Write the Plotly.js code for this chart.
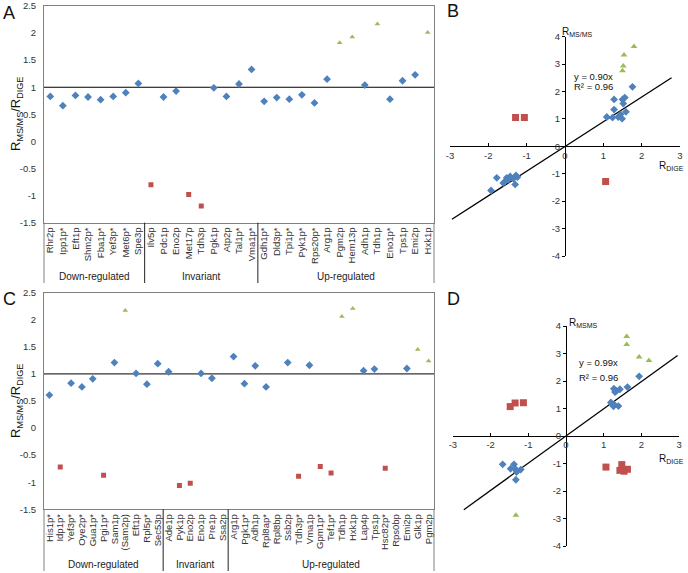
<!DOCTYPE html>
<html><head><meta charset="utf-8">
<script src="https://cdn.plot.ly/plotly-3.0.1.min.js"></script>
<style>html,body{margin:0;padding:0;background:#fff}#chart{width:688px;height:573px}</style>
</head><body><div id="chart"></div>
<script>
// ---------- Panel A data ----------
const catA = ['Rhr2p','Ipp1p*','Eft1p','Shm2p*','Fba1p*','Yef3p*','Met6p*','Spe3p',
  'Ilv5p','Pdc1p','Eno2p','Met17p','Tdh3p','Pgk1p','Atp2p','Tal1p*','Vma1p*',
  'Gdh1p*','Dld3p*','Tpi1p*','Pyk1p*','Rps20p*','Arg1p','Pgm2p','Hem13p','Adh1p','Tdh1p','Eno1p*','Tps1p','Emi2p','Hxk1p'];
const valA = [0.83,0.66,0.85,0.82,0.77,0.83,0.90,1.07,
  -0.80,0.82,0.93,-0.98,-1.19,0.99,0.83,1.06,1.33,
  0.74,0.81,0.78,0.86,0.71,1.15,1.82,1.93,1.04,2.17,0.78,1.12,1.23,2.01];
const typeA = ['b','b','b','b','b','b','b','b',
  'r','b','b','r','r','b','b','b','b',
  'b','b','b','b','b','b','g','g','b','g','b','b','b','g'];
const groupsA = ['Down-regulated','Invariant','Up-regulated'];
const groupSizeA = [8,9,14];

// ---------- Panel C data ----------
const catC = ['His1p*','Idp1p*','Yef3p*','Oye2p*','Gua1p*','Pgi1p*','Sam1p','(Sam2p)','Eft1p','Rpl5p*','Sec53p',
  'Ade1p','Pyk1p','Eno2p','Eno1p','Pre1p','Ssa2p',
  'Arg1p','Pgk1p*','Adh1p','Rpl8ap*','Rpl8bp','Ssb2p','Tdh3p*','Vma1p','Gpm1p*','Tef1p*','Tdh1p','Hxk1p','Lap4p','Tps1p','Hsc82p*','Rps0bp','Emi2p','Glk1p','Pgm2p'];
const valC = [0.61,-0.72,0.83,0.76,0.91,-0.87,1.21,2.17,1.01,0.81,1.19,
  1.04,-1.06,-1.02,1.01,0.92,null,
  1.32,0.82,1.15,0.76,null,1.21,-0.89,1.16,-0.71,-0.83,2.06,2.21,1.06,1.09,-0.74,null,1.10,1.45,1.24];
const typeC = ['b','r','b','b','b','r','b','g','b','b','b',
  'b','r','r','b','b','',
  'b','b','b','b','','b','r','b','r','r','g','g','b','b','r','','b','g','g'];
const groupsC = ['Down-regulated','Invariant','Up-regulated'];
const groupSizeC = [11,6,19];

const ratioTicks = [-1.5,-1,-0.5,0,0.5,1,1.5,2,2.5];
const ratioTickText = ['-1.5','-1','-0.5','0','0.5','1','1.5','2','2.5'];

// ---------- Panel B data ----------
const bBlueX = [-1.93,-1.78,-1.61,-1.56,-1.52,-1.48,-1.43,-1.35,-1.28,-1.30,-1.24,1.09,1.24,1.28,1.28,1.39,1.45,1.49,1.50,1.52,1.56,1.59,1.76];
const bBlueY = [-1.61,-1.15,-1.34,-1.27,-1.15,-1.22,-1.10,-1.18,-1.06,-1.39,-1.12,1.07,1.05,1.71,1.34,1.07,1.17,1.01,1.71,1.56,1.78,1.26,2.17];
const bGreenX = [1.54,1.50,1.52,1.80];
const bGreenY = [3.33,2.76,2.93,3.64];
const bRedX = [-1.29,-1.06,1.06];
const bRedY = [1.05,1.05,-1.28];
const fitBX = [-2.95,2.78];
const fitBY = [-2.66,2.50];

// ---------- Panel D data ----------
const dBlueX = [-1.68,-1.47,-1.38,-1.35,-1.31,-1.33,-1.20,1.19,1.26,1.28,1.39,1.27,1.30,1.34,1.43,1.63,1.94];
const dBlueY = [-1.03,-1.19,-1.03,-1.19,-1.31,-1.59,-1.22,1.22,1.08,1.14,1.09,1.72,1.60,1.64,1.70,1.78,2.17];
const dGreenX = [1.61,1.61,1.94,2.20,-1.33];
const dGreenY = [3.62,3.33,2.87,2.75,-2.88];
const dRedX = [-1.48,-1.35,-1.13,1.06,1.48,1.43,1.54,1.63];
const dRedY = [1.07,1.20,1.21,-1.13,-1.04,-1.25,-1.28,-1.21];
const fitDX = [-2.71,2.96];
const fitDY = [-2.68,2.93];

const scatXTicks = [-3,-2,-1,0,1,2,3];
const scatXText = ['-3','-2','-1','0','1','2','3'];
const scatYTicks = [-4,-3,-2,-1,0,1,2,3,4];
const scatYText = ['-4','-3','-2','-1','0','1','2','3','4'];

// ---------- styles ----------
const FONT = 'Liberation Sans, Arial, sans-serif';
const COL = {b:'#4F81BD', r:'#C0504D', g:'#9BBB59'};
const SYM = {b:'diamond', r:'square', g:'triangle-up'};
const SIZE_CAT = {b:6, r:5, g:5};
const SIZE_SC = {b:6, r:7, g:6};
const W = 688, H = 573;
const px = v => v / W;
const py = v => 1 - v / H;

function catTraces(vals, types, xa, ya){
  const out = [];
  ['b','r','g'].forEach(t => {
    const xs = [], ys = [];
    vals.forEach((v,i) => { if (v !== null && types[i] === t) { xs.push(i); ys.push(v); } });
    out.push({type:'scatter', mode:'markers', x:xs, y:ys, xaxis:xa, yaxis:ya,
      marker:{symbol:SYM[t], size:SIZE_CAT[t], color:COL[t]}, hoverinfo:'skip'});
  });
  return out;
}
function scTrace(xs, ys, t, xa, ya){
  return {type:'scatter', mode:'markers', x:xs, y:ys, xaxis:xa, yaxis:ya,
    marker:{symbol:SYM[t], size:SIZE_SC[t], color:COL[t]}, hoverinfo:'skip'};
}
function fitTrace(xs, ys, xa, ya){
  return {type:'scatter', mode:'lines', x:xs, y:ys, xaxis:xa, yaxis:ya,
    line:{color:'#000', width:1.3}, hoverinfo:'skip'};
}

const data = [].concat(
  catTraces(valA, typeA, 'x', 'y'),
  catTraces(valC, typeC, 'x3', 'y3'),
  [fitTrace(fitBX, fitBY, 'x2', 'y2'),
   scTrace(bBlueX, bBlueY, 'b', 'x2', 'y2'),
   scTrace(bRedX, bRedY, 'r', 'x2', 'y2'),
   scTrace(bGreenX, bGreenY, 'g', 'x2', 'y2'),
   fitTrace(fitDX, fitDY, 'x4', 'y4'),
   scTrace(dBlueX, dBlueY, 'b', 'x4', 'y4'),
   scTrace(dRedX, dRedY, 'r', 'x4', 'y4'),
   scTrace(dGreenX, dGreenY, 'g', 'x4', 'y4')]
);

const tickFont = {family:FONT, size:9.5, color:'#333'};
const frameCol = '#808080';

function catXAxis(cats, dom){
  return {domain:dom, range:[-0.5, cats.length-0.5], tickvals:cats.map((c,i)=>i), ticktext:cats,
    tickangle:-90, tickfont:tickFont, showline:true, linecolor:frameCol, linewidth:1, mirror:true,
    showgrid:false, zeroline:false, ticks:'', fixedrange:true};
}
function catYAxis(dom, anchor){
  return {domain:dom, anchor:anchor, range:[-1.5,2.5], tickvals:ratioTicks, ticktext:ratioTickText,
    tickfont:tickFont, showline:true, linecolor:frameCol, linewidth:1, mirror:true,
    showgrid:false, zeroline:false, ticks:'', ticklabelstandoff:5, fixedrange:true};
}
function scXAxis(dom, pos){
  return {domain:dom, range:[-3,3], anchor:'free', position:pos, tickvals:scatXTicks, ticktext:scatXText,
    tickfont:tickFont, showline:true, linecolor:'#000', linewidth:1, ticks:'inside', ticklen:3, tickcolor:'#000',
    showgrid:false, zeroline:false, fixedrange:true};
}
function scYAxis(dom, pos){
  return {domain:dom, range:[-4,4], anchor:'free', position:pos, tickvals:scatYTicks, ticktext:scatYText,
    tickfont:tickFont, showline:true, linecolor:'#000', linewidth:1, ticks:'outside', ticklen:3, tickcolor:'#000',
    showgrid:false, zeroline:false, fixedrange:true};
}

const domAx = [px(44), px(434)];
const domAy = [py(222.7), py(6)];
const domCy = [py(509.3), py(292.7)];

const shapes = [];
const annotations = [];

function catDecor(xa, ya, groups, sizes, bottomPx, labelPx){
  const yb = bottomPx, yt = (xa === 'x' ? domAy[0] : domCy[0]);
  shapes.push({type:'line', xref:xa+' domain', yref:ya, x0:0, x1:1, y0:1, y1:1, line:{color:'#000', width:1}, layer:'below'});
  [0,1].forEach(d => shapes.push({type:'line', xref:xa+' domain', yref:'paper', x0:d, x1:d, y0:yb, y1:yt, line:{color:frameCol, width:1}}));
  let start = 0;
  groups.forEach((g,k) => {
    const end = start + sizes[k];
    annotations.push({xref:xa, yref:'paper', x:(start+end-1)/2, y:labelPx, text:g, showarrow:false,
      xanchor:'center', yanchor:'middle', font:{family:FONT, size:10, color:'#222'}});
    if (k < groups.length-1) {
      shapes.push({type:'line', xref:xa, yref:'paper', x0:end-0.5, x1:end-0.5, y0:yb, y1:yt, line:{color:'#222', width:1}});
    }
    start = end;
  });
}
catDecor('x','y', groupsA, groupSizeA, py(283), py(276));
catDecor('x3','y3', groupsC, groupSizeC, py(571), py(564));

function txt(xp, yp, t, size, anchor, extra){
  annotations.push(Object.assign({xref:'paper', yref:'paper', x:xp, y:yp, text:t, showarrow:false,
    xanchor:anchor||'left', yanchor:'middle', font:{family:FONT, size:size, color:'#111'}}, extra||{}));
}
// panel letters
txt(px(1), py(12.5), 'A', 18);
txt(px(445), py(11), 'B', 18);
txt(px(1), py(299), 'C', 18);
txt(px(445), py(299), 'D', 18);
// y titles of category panels
txt(px(16), py(114), 'R<sub>MS/MS</sub>/R<sub>DIGE</sub>', 13, 'center', {textangle:-90});
txt(px(16), py(401), 'R<sub>MS/MS</sub>/R<sub>DIGE</sub>', 13, 'center', {textangle:-90});
// scatter axis titles
txt(px(560), py(32), 'R<sub>MS/MS</sub>', 10);
txt(px(686), py(166), 'R<sub>DIGE</sub>', 10, 'right');
txt(px(567), py(323), 'R<sub>MSMS</sub>', 10);
txt(px(686), py(459), 'R<sub>DIGE</sub>', 10, 'right');
// regression equations
txt(px(572), py(76.7), 'y = 0.90x', 9.5);
txt(px(572), py(86.5), 'R² = 0.96', 9.5);
txt(px(577), py(363), 'y = 0.99x', 9.5);
txt(px(577), py(377), 'R² = 0.96', 9.5);

const layout = {
  width:W, height:H, margin:{l:0, r:0, t:0, b:0},
  paper_bgcolor:'#fff', plot_bgcolor:'rgba(0,0,0,0)', showlegend:false,
  font:{family:FONT, size:10, color:'#222'},
  xaxis: Object.assign(catXAxis(catA, domAx), {anchor:'y'}),
  yaxis: catYAxis(domAy, 'x'),
  xaxis3: Object.assign(catXAxis(catC, domAx), {anchor:'y3'}),
  yaxis3: catYAxis(domCy, 'x3'),
  xaxis2: scXAxis([px(450), px(680)], py(146.3)),
  yaxis2: scYAxis([py(256), py(36.7)], px(565)),
  xaxis4: scXAxis([px(452.9), px(679.1)], py(436)),
  yaxis4: scYAxis([py(546), py(326)], px(566)),
  shapes: shapes,
  annotations: annotations
};

Plotly.newPlot('chart', data, layout, {staticPlot:true, displayModeBar:false});
</script>
</body></html>
